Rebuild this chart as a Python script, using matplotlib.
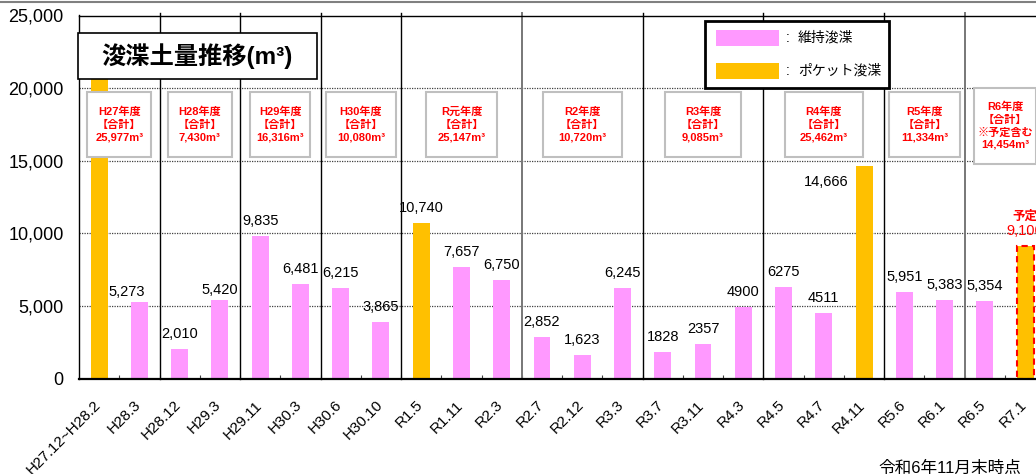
import matplotlib
matplotlib.use('Agg')
import matplotlib.pyplot as plt
import matplotlib.transforms as mtransforms
from matplotlib.patches import Rectangle
from matplotlib.lines import Line2D
from matplotlib.ticker import FixedLocator, FuncFormatter

plt.rcParams['font.family'] = ['Liberation Sans', 'Noto Sans CJK JP', 'DejaVu Sans']

# ---- data ----
categories = ['H27.12~H28.2', 'H28.3', 'H28.12', 'H29.3', 'H29.11', 'H30.3',
              'H30.6', 'H30.10', 'R1.5', 'R1.11', 'R2.3', 'R2.7', 'R2.12',
              'R3.3', 'R3.7', 'R3.11', 'R4.3', 'R4.5', 'R4.7', 'R4.11',
              'R5.6', 'R6.1', 'R6.5', 'R7.1']
volumes = [20704, 5273, 2010, 5420, 9835, 6481, 6215, 3865, 10740, 7657,
           6750, 2852, 1623, 6245, 1828, 2357, 4900, 6275, 4511, 14666,
           5951, 5383, 5354, 9100]
kinds = ['pocket', 'maint', 'maint', 'maint', 'maint', 'maint', 'maint',
         'maint', 'pocket', 'maint', 'maint', 'maint', 'maint', 'maint',
         'maint', 'maint', 'maint', 'maint', 'maint', 'pocket', 'maint',
         'maint', 'maint', 'pocket']
# first bar's label sits under the title box in the original, so none shown
value_labels = [None, '5,273', '2,010', '5,420', '9,835', '6,481', '6,215',
                '3,865', '10,740', '7,657', '6,750', '2,852', '1,623', '6,245',
                '1828', '2357', '4900', '6275', '4511', '14,666', '5,951',
                '5,383', '5,354', '9,100']
planned = [False] * 23 + [True]

fiscal_years = ['H27年度', 'H28年度', 'H29年度', 'H30年度', 'R元年度',
                'R2年度', 'R3年度', 'R4年度', 'R5年度', 'R6年度']
fy_counts = [2, 2, 2, 2, 3, 3, 3, 3, 2, 2]
fy_totals = ['25,977', '7,430', '16,316', '10,080', '25,147', '10,720',
             '9,085', '25,462', '11,334', '14,454']
fy_notes = ['', '', '', '', '', '', '', '', '', '※予定含む']

# ---- styling ----
PINK = '#FF99FF'
ORANGE = '#FFC000'
RED = '#FF0000'
W, H = 1036, 474

def fx(px):
    return px / W

def fy(py):
    return 1 - py / H

fig = plt.figure(figsize=(W / 100, H / 100), dpi=100)
ax = fig.add_axes([fx(79), fy(378.5), 24 * 40.26 / W, (378.5 - 15.5) / H])

x = list(range(len(categories)))
colors = [ORANGE if k == 'pocket' else PINK for k in kinds]
bars = ax.bar(x, volumes, width=0.42, color=colors, zorder=2)
for b, p in zip(bars, planned):
    if p:
        b.set_edgecolor(RED)
        b.set_linestyle((0, (3, 2)))
        b.set_linewidth(1.5)

ax.set_xlim(-0.5, len(categories) - 0.5)
ax.set_ylim(0, 25000)
ax.set_yticks(range(0, 25001, 5000))
ax.yaxis.set_major_formatter(FuncFormatter(lambda v, _: f'{int(v):,}'))
ax.tick_params(axis='y', length=0, pad=11, labelsize=13)
ax.grid(axis='y', color='#404040', linestyle=(0, (1, 1)), linewidth=0.9)
ax.set_axisbelow(True)

ax.set_xticks(x)
ax.set_xticklabels(categories, rotation=45, ha='right', fontsize=11)
ax.tick_params(axis='x', which='major', length=0, pad=14)
ax.xaxis.set_minor_locator(FixedLocator([i + 0.5 for i in range(len(categories) - 1)]))
ax.tick_params(axis='x', which='minor', direction='in', length=3, width=0.8, color='#404040')
shift = mtransforms.ScaledTranslation(3 / 72, 0, fig.dpi_scale_trans)
for lab in ax.get_xticklabels():
    lab.set_transform(lab.get_transform() + shift)

for s in ['left', 'top']:
    ax.spines[s].set_linewidth(1.0)
ax.spines['bottom'].set_linewidth(1.6)
ax.spines['right'].set_visible(False)

# value labels (pixel offsets: dx, baseline gap)
label_offsets = {1: (-13, 6), 3: (0, 6), 19: (-38, -20)}
for i, (v, t) in enumerate(zip(volumes, value_labels)):
    if t is None:
        continue
    dx, dy = label_offsets.get(i, (0, 11))
    c = RED if planned[i] else 'black'
    ax.annotate(t, (i, v), xytext=(dx, dy), textcoords='offset pixels',
                ha='center', va='baseline', fontsize=10.5, color=c, zorder=1.5)
    if planned[i]:
        ax.annotate('予定', (i, v), xytext=(0, 27), textcoords='offset pixels',
                    ha='center', va='baseline', fontsize=9, color=RED,
                    fontweight='bold')

# fiscal-year separators and summary boxes
box_widths = [1.6, 1.6, 1.5, 1.75, 1.75, 1.95, 1.9, 1.95, 1.75, 1.55]
start = 0
for k, n in enumerate(fy_counts):
    end = start + n
    if end < len(categories):
        gray = end in (11, 22)
        ax.axvline(end - 0.5, ymin=0, ymax=1.006, color='#777777' if gray else 'black',
                   linewidth=1.4 if gray else 1.0, zorder=1, clip_on=False)
    cx = (start + end - 1) / 2
    bw = box_widths[k]
    if fy_notes[k]:
        y0, y1 = 14800, 20000
    else:
        y0, y1 = 15250, 19750
    ax.add_patch(Rectangle((cx - bw / 2, y0), bw, y1 - y0, facecolor='white',
                           edgecolor='#BFBFBF', linewidth=1.5, zorder=4))
    lines = [fiscal_years[k], '【合計】']
    if fy_notes[k]:
        lines.append(fy_notes[k])
    lines.append(fy_totals[k] + 'm³')
    ax.text(cx, (y0 + y1) / 2, '\n'.join(lines), ha='center', va='center',
            fontsize=8, color=RED, fontweight='bold', linespacing=1.3, zorder=5)
    start = end

# title box
fig.add_artist(Rectangle((fx(78), fy(79)), fx(317) - fx(78), fy(33) - fy(79),
                         transform=fig.transFigure, facecolor='white',
                         edgecolor='black', linewidth=1.2, zorder=6))
fig.text(fx(197), fy(56), '浚渫土量推移(m³)', ha='center', va='center',
         fontsize=17.5, fontweight='bold', zorder=7)

# legend box
fig.add_artist(Rectangle((fx(705), fy(88)), fx(889) - fx(705), fy(21) - fy(88),
                         transform=fig.transFigure, facecolor='white',
                         edgecolor='black', linewidth=2, zorder=6))
legend_items = [(PINK, '維持浚渫', 38), (ORANGE, 'ポケット浚渫', 71)]
for col, name, yc in legend_items:
    fig.add_artist(Rectangle((fx(716), fy(yc + 8)), fx(779) - fx(716), 16 / H,
                             transform=fig.transFigure, facecolor=col,
                             edgecolor='none', zorder=7))
    fig.text(fx(786), fy(yc), ':', ha='left', va='center', fontsize=10, zorder=7)
    fig.text(fx(798), fy(yc), name, ha='left', va='center', fontsize=10, zorder=7)

# slide border and footnote
fig.add_artist(Line2D([0, 1], [fy(2), fy(2)], transform=fig.transFigure,
                      color='#808080', linewidth=1.5))
fig.text(fx(878), fy(461), '令和6年11月末時点', ha='left', va='top', fontsize=12)

fig.savefig('out.png', dpi=100)
